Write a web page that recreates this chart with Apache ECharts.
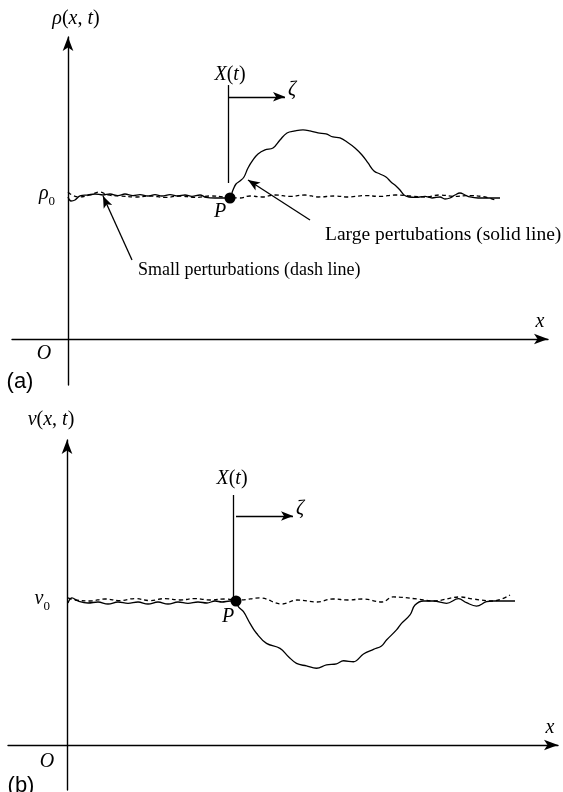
<!DOCTYPE html>
<html>
<head>
<meta charset="utf-8">
<script src="https://cdn.jsdelivr.net/npm/echarts@6/dist/echarts.min.js"></script>
<style>
html, body { margin: 0; padding: 0; background: #fff; }
#chart { width: 563px; height: 792px; }
</style>
</head>
<body>
<div id="chart"></div>
<script>
// panel (a): density, x in axis units, rho0 = 1
var rhoLargeX = [0, 0.6, 1.4, 2.4, 4, 5.4, 7, 8.4, 10, 11.4, 13, 14.4, 16, 17.4, 18.8, 20.4, 22, 23.4, 24.8, 26.4, 27.6, 29.4, 31.4, 32.4,
  33, 33.6, 34.4, 35.2, 36, 37, 38, 39.4, 41, 42.4, 43.8, 45.4, 47, 48.4, 50, 51.6, 53, 54.4, 55.8, 57.4, 58.8, 60, 61.2, 62.4, 63.6, 64.6, 65.6, 66.4, 67.2,
  68.2, 69.6, 71.4, 72.8, 74.4, 75.4, 76.4, 77.4, 78.4, 79.4, 80.4, 82, 84.4, 86.4];
var rhoLargeY = [0.993, 0.965, 0.972, 1.0, 1.007, 1.014, 1.007, 1.014, 1.003, 1.014, 1.003, 1.01, 1.0, 1.01, 1.0, 1.01, 1.0, 1.007, 0.997, 1.007, 0.99, 0.986, 0.986, 0.993,
  1.042, 1.084, 1.105, 1.133, 1.196, 1.252, 1.294, 1.322, 1.336, 1.392, 1.441, 1.455, 1.462, 1.455, 1.441, 1.434, 1.413, 1.406, 1.378, 1.336, 1.287, 1.231, 1.175, 1.154, 1.133, 1.098, 1.07, 1.042, 1.007,
  0.993, 0.99, 0.997, 0.986, 0.993, 0.979, 0.986, 1.007, 1.021, 1.007, 0.993, 0.986, 0.986, 0.986];
var rhoSmallX = [0, 0.8, 2.4, 4.4, 6.4, 8, 10.4, 13.4, 16.4, 19.4, 22.4, 25.4, 28.4, 31.4, 34.4, 36.4, 38.8, 41.4, 44.4, 47.4, 50, 53.4, 56, 59.4, 62.4, 65.4, 68.4, 71.4, 74.4, 77.4, 80.4, 83.4, 85.4];
var rhoSmallY = [1.028, 1.007, 0.993, 1.007, 1.028, 1.007, 1.0, 0.993, 1.0, 0.99, 1.0, 0.99, 1.0, 0.993, 0.986, 1.0, 0.993, 1.007, 0.997, 1.007, 0.993, 1.0, 0.993, 1.003, 0.997, 1.007, 1.0, 0.993, 1.007, 0.997, 1.003, 0.993, 0.972];

// panel (b): velocity, v0 = 1
var velLargeX = [0.2, 1, 2.2, 4.2, 6.2, 8.2, 10.2, 12.2, 14.2, 16.2, 18.2, 20.2, 22.2, 24.2, 26.2, 28, 29.6, 31, 32.6, 33.8,
  34.3, 35.3, 36.6, 37.9, 39.9, 42.6, 44.3, 45.9, 47.9, 49.9, 51.9, 53.9, 55.3, 57.3, 59.3, 61.3, 62.9, 63.9, 65.9, 66.9, 68.6, 69.6,
  71.3, 73.3, 75.9, 78.3, 79.9, 81.9, 83.9, 85.3, 89.6];
var velLargeY = [0.986, 1.021, 1.0, 0.986, 0.993, 0.979, 0.993, 0.983, 0.993, 0.979, 0.993, 0.979, 0.993, 0.983, 0.993, 0.986, 1.0, 0.993, 1.0, 1.0,
  0.96, 0.926, 0.845, 0.776, 0.706, 0.671, 0.613, 0.567, 0.549, 0.533, 0.556, 0.563, 0.585, 0.578, 0.632, 0.664, 0.688, 0.729, 0.799, 0.845, 0.903, 0.972,
  1.0, 1.0, 0.984, 1.016, 0.988, 0.965, 0.995, 1.0, 1.0];
var velSmallX = [0.2, 1.6, 4.6, 7.6, 10.6, 13.6, 16.6, 19.6, 22.6, 25.6, 28.6, 31.6, 34.6, 38.6, 43, 46, 50, 53.2, 56.2, 59.2, 63, 65.2, 70, 73.2, 78.6, 81.2, 85.2, 88.6];
var velSmallY = [1.021, 1.007, 1.0, 1.014, 1.003, 1.017, 1.003, 1.017, 1.007, 1.017, 1.007, 1.014, 1.007, 1.021, 0.979, 1.007, 0.993, 1.014, 1.007, 1.014, 0.993, 1.028, 1.014, 1.0, 1.028, 1.014, 1.0, 1.042];

// reference level (rho0, v0)
var level = 1;

var SERIF = '"Liberation Serif", "DejaVu Serif", serif';
var SANS = '"Liberation Sans", Arial, sans-serif';

function zip(xs, ys) {
  return xs.map(function (x, i) { return [x, ys[i]]; });
}

var rich = {
  i: { fontFamily: SERIF, fontStyle: 'italic', fontSize: 20, color: '#000' },
  n: { fontFamily: SERIF, fontSize: 20, color: '#000' },
  s: { fontFamily: SERIF, fontSize: 13, color: '#000', verticalAlign: 'bottom', lineHeight: 24 },
  r: { fontFamily: SERIF, fontStyle: 'italic', fontSize: 20, color: '#000', verticalAlign: 'top', lineHeight: 24 }
};

function note(x, y, text, align, vAlign, style) {
  var label = { show: true, formatter: text, align: align || 'center', verticalAlign: vAlign || 'middle' };
  if (style) { for (var k in style) label[k] = style[k]; }
  return { value: [x, y], label: label };
}

function arrow(x1, y1, x2, y2) {
  return [{ coord: [x1, y1] }, { coord: [x2, y2] }];
}

function seg(x1, y1, x2, y2) {
  return [{ coord: [x1, y1], symbol: 'none' }, { coord: [x2, y2], symbol: 'none' }];
}

var largeText = { fontFamily: SERIF, fontSize: 19.5, color: '#000' };
var smallText = { fontFamily: SERIF, fontSize: 18, color: '#000' };
var panelStyle = { fontFamily: SANS, fontSize: 22, color: '#000' };
var noteLabel = { show: true, position: 'inside', color: '#000', textBorderWidth: 0, opacity: 1, rich: rich };

function axisPair(idx, xmin, xmax, ymin, ymax, yName, yGap, yPad) {
  return {
    x: {
      type: 'value', gridIndex: idx, min: xmin, max: xmax,
      axisLine: { onZero: true, symbol: ['none', 'arrow'], symbolSize: [8, 14], lineStyle: { color: '#000', width: 1.4 } },
      axisTick: { show: false }, axisLabel: { show: false }, splitLine: { show: false },
      name: 'x', nameLocation: 'end', nameGap: -8,
      nameTextStyle: { fontFamily: SERIF, fontStyle: 'italic', fontSize: 20, color: '#000', align: 'center', verticalAlign: 'bottom', padding: [0, 0, 7, 0] }
    },
    y: {
      type: 'value', gridIndex: idx, min: ymin, max: ymax,
      axisLine: { onZero: true, symbol: ['none', 'arrow'], symbolSize: [8, 14], lineStyle: { color: '#000', width: 1.4 } },
      axisTick: { show: false }, axisLabel: { show: false }, splitLine: { show: false },
      name: yName, nameLocation: 'end', nameGap: yGap,
      nameTextStyle: { rich: rich, padding: yPad }
    }
  };
}

var a = axisPair(0, -11.2, 96, -0.322, 2.112, '{i|ρ}{n|(}{i|x}{n|, }{i|t}{n|)}', 8, [0, 0, 0, 16]);
var b = axisPair(1, -11.8, 98.2, -0.3125, 2.118, '{i|v}{n|(}{i|x}{n|, }{i|t}{n|)}', 10, [0, 32, 0, 0]);

var lineBase = { type: 'line', showSymbol: false, symbol: 'none', smooth: 0.4, silent: true };
var solid = { color: '#000', width: 1.3, type: 'solid' };
var dashed = { color: '#000', width: 1.3, type: [4, 3] };
var markBase = { silent: true, symbol: ['none', 'arrow'], symbolSize: [7, 12], label: { show: false }, lineStyle: { color: '#000', width: 1.3, type: 'solid' } };

function withMarks(data) {
  var m = {};
  for (var k in markBase) m[k] = markBase[k];
  m.data = data;
  return m;
}

var option = {
  animation: false,
  backgroundColor: '#fff',
  grid: [
    { left: 12, right: 15, top: 37, bottom: 407, containLabel: false, outerBoundsMode: 'none' },
    { left: 8, right: 5, top: 440, bottom: 2, containLabel: false, outerBoundsMode: 'none' }
  ],
  xAxis: [a.x, b.x],
  yAxis: [a.y, b.y],
  series: [
    Object.assign({}, lineBase, { name: 'rho small', xAxisIndex: 0, yAxisIndex: 0, data: zip(rhoSmallX, rhoSmallY), lineStyle: dashed }),
    Object.assign({}, lineBase, { name: 'rho large', xAxisIndex: 0, yAxisIndex: 0, data: zip(rhoLargeX, rhoLargeY), lineStyle: solid }),
    Object.assign({}, lineBase, { name: 'v small', xAxisIndex: 1, yAxisIndex: 1, data: zip(velSmallX, velSmallY), lineStyle: dashed }),
    Object.assign({}, lineBase, { name: 'v large', xAxisIndex: 1, yAxisIndex: 1, data: zip(velLargeX, velLargeY), lineStyle: solid }),
    {
      type: 'scatter', xAxisIndex: 0, yAxisIndex: 0, symbolSize: 11, silent: true,
      itemStyle: { color: '#000', opacity: 1 }, data: [[32.4, 0.986]]
    },
    {
      type: 'scatter', xAxisIndex: 1, yAxisIndex: 1, symbolSize: 11, silent: true,
      itemStyle: { color: '#000', opacity: 1 }, data: [[33.8, level]]
    },
    {
      type: 'scatter', xAxisIndex: 0, yAxisIndex: 0, symbolSize: 0, silent: true, clip: false,
      itemStyle: { opacity: 1 },
      label: noteLabel,
      data: [
        note(-2.6, level, '{r|ρ}{s|0}', 'right', 'middle'),
        note(32.4, 1.846, '{i|X}{n|(}{i|t}{n|)}'),
        note(44.8, 1.741, '{i|ζ}'),
        note(30.4, 0.888, '{i|P}'),
        note(-4.8, -0.105, '{i|O}'),
        note(-9.6, -0.3, '(a)', 'center', 'middle', panelStyle),
        note(51.4, 0.727, 'Large pertubations (solid line)', 'left', 'middle', largeText),
        note(14, 0.483, 'Small perturbations (dash line)', 'left', 'middle', smallText)
      ],
      markLine: withMarks([
        seg(32, 1.091, 32, 1.776),
        arrow(32, 1.694, 43.4, 1.694),
        arrow(48.4, 0.832, 36, 1.112),
        arrow(12.8, 0.552, 7, 1.0)
      ])
    },
    {
      type: 'scatter', xAxisIndex: 1, yAxisIndex: 1, symbolSize: 0, silent: true, clip: false,
      itemStyle: { opacity: 1 },
      label: noteLabel,
      data: [
        note(-3.4, level, '{r|v}{s|0}', 'right', 'middle'),
        note(33, 1.847, '{i|X}{n|(}{i|t}{n|)}'),
        note(46.6, 1.639, '{i|ζ}'),
        note(32.2, 0.889, '{i|P}'),
        note(-4, -0.118, '{i|O}'),
        note(-9.2, -0.285, '(b)', 'center', 'middle', panelStyle)
      ],
      markLine: withMarks([
        seg(33.2, 1.0, 33.2, 1.736),
        arrow(33.8, 1.59, 45.2, 1.59)
      ])
    }
  ]
};

var chart = echarts.init(document.getElementById('chart'));
chart.setOption(option);
</script>
</body>
</html>
